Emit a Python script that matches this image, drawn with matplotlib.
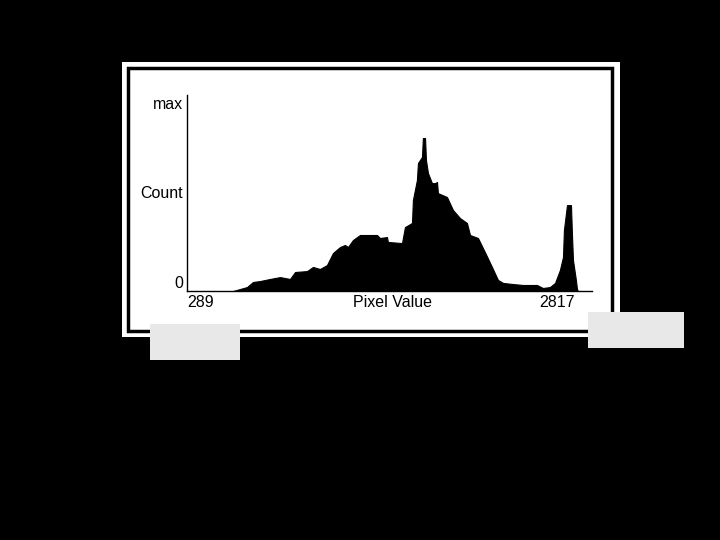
import matplotlib.pyplot as plt
from matplotlib.patches import Rectangle

# histogram outline (pixel value vs. count, max = 1)
pixel_value = [589, 680, 719, 765, 830, 895, 960, 993, 1071, 1110, 1155, 1201,
               1240, 1286, 1318, 1338, 1370, 1416, 1527, 1546, 1592, 1598, 1690,
               1709, 1755, 1761, 1787, 1794, 1820, 1826, 1840, 1846, 1859, 1885,
               1905, 1918, 1924, 1983, 2022, 2068, 2113, 2133, 2185, 2230, 2276,
               2315, 2348, 2413, 2478, 2569, 2608, 2654, 2687, 2719, 2739, 2745,
               2765, 2791, 2797, 2804, 2823, 2830, 2836]
count = [0.0, 0.021, 0.048, 0.053, 0.064, 0.074, 0.064, 0.101, 0.106, 0.128,
         0.117, 0.138, 0.202, 0.234, 0.245, 0.234, 0.271, 0.298, 0.298, 0.282,
         0.287, 0.261, 0.255, 0.340, 0.362, 0.484, 0.590, 0.681, 0.713, 0.814,
         0.814, 0.697, 0.628, 0.574, 0.574, 0.580, 0.521, 0.500, 0.431, 0.388,
         0.362, 0.298, 0.282, 0.207, 0.128, 0.059, 0.043, 0.037, 0.032, 0.032,
         0.016, 0.021, 0.043, 0.112, 0.181, 0.324, 0.457, 0.457, 0.309, 0.165,
         0.059, 0.011, 0.0]

x_ticks = [289, 2817]
x_tick_labels = ['289', '2817']
y_ticks = [0, 0.527, 1]
y_tick_labels = ['0', 'Count', 'max']

plt.rcParams['font.family'] = ['Liberation Sans', 'DejaVu Sans']

fig = plt.figure(figsize=(7.2, 5.4), dpi=100, facecolor='black')

# white card with black frame
fig.patches.append(Rectangle((122 / 720, 1 - 337 / 540), 498 / 720, 275 / 540,
                             transform=fig.transFigure, facecolor='white',
                             edgecolor='none', zorder=-2))
fig.patches.append(Rectangle((128 / 720, 1 - 331 / 540), 484 / 720, 263 / 540,
                             transform=fig.transFigure, facecolor='none',
                             edgecolor='black', linewidth=2.5, zorder=-1))
# light grey boxes
fig.patches.append(Rectangle((150 / 720, 1 - 360 / 540), 90 / 720, 36 / 540,
                             transform=fig.transFigure, facecolor='#e8e8e8',
                             edgecolor='none', zorder=6))
fig.patches.append(Rectangle((588 / 720, 1 - 348 / 540), 96 / 720, 36 / 540,
                             transform=fig.transFigure, facecolor='#e8e8e8',
                             edgecolor='none', zorder=6))

ax = fig.add_axes([187 / 720, 1 - 291 / 540, 405 / 720, 196 / 540])
ax.set_zorder(5)
ax.set_facecolor('none')
ax.fill_between(pixel_value, count, 0, color='black', linewidth=0.8, edgecolor='black')

ax.set_xlim(289, 2928)
ax.set_ylim(0, 1.043)

for s in ['top', 'right']:
    ax.spines[s].set_visible(False)
for s in ['left', 'bottom']:
    ax.spines[s].set_linewidth(1.0)
    ax.spines[s].set_color('black')

ax.set_xticks(x_ticks)
ax.set_xticklabels(x_tick_labels, fontsize=11.5)
ax.get_xticklabels()[0].set_ha('left')
ax.get_xticklabels()[1].set_ha('right')
ax.set_yticks(y_ticks)
ax.set_yticklabels(y_tick_labels, fontsize=11.5)
ax.get_yticklabels()[0].set_va('bottom')
ax.tick_params(length=0, pad=3)

ax.text(0.508, -0.018, 'Pixel Value', transform=ax.transAxes, ha='center', va='top',
        fontsize=11.5)

fig.savefig('out.png', dpi=100, facecolor='black')
